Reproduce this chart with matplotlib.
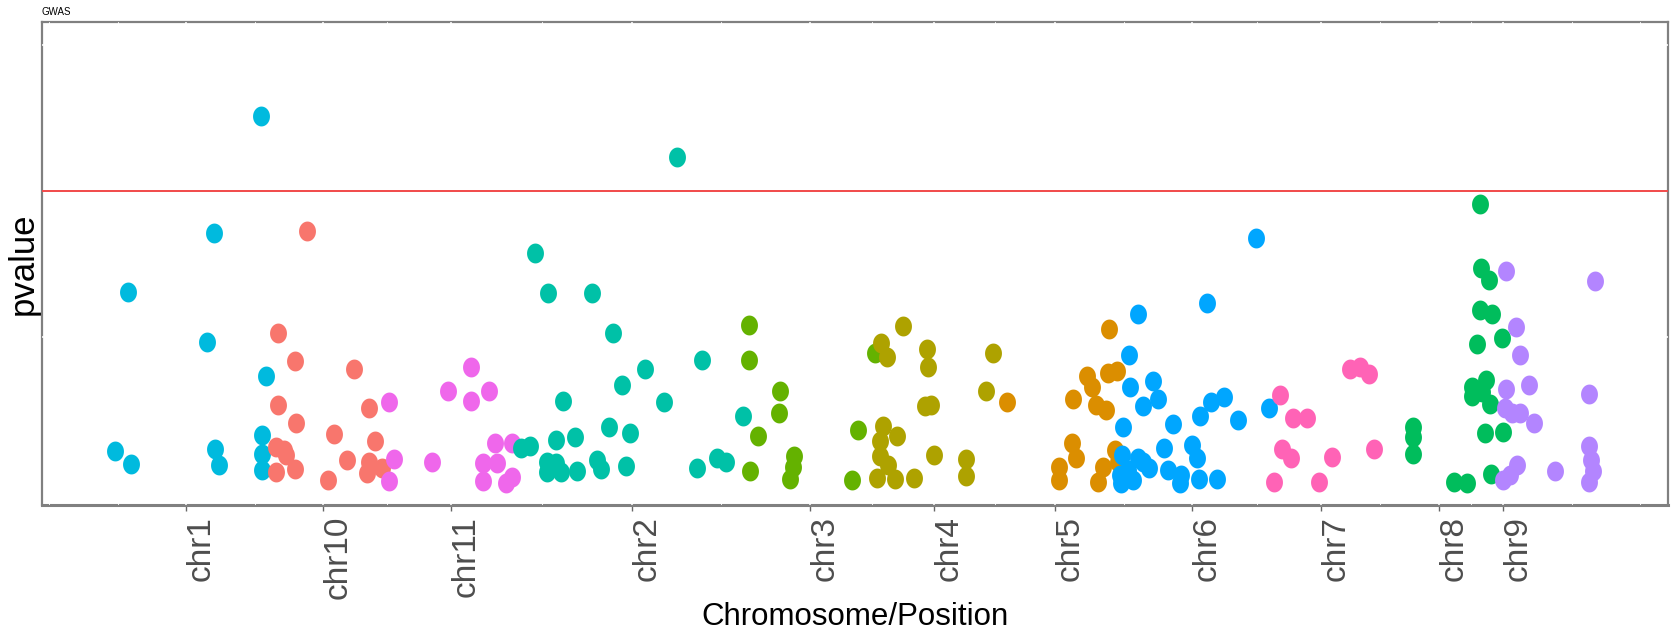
import matplotlib
matplotlib.use("Agg")
import matplotlib.pyplot as plt
import numpy as np
from matplotlib.path import Path

plt.rcParams['font.family'] = ['Liberation Sans', 'DejaVu Sans']

# chromosome order on the axis and the hue colour each one got
chroms = ['chr1', 'chr10', 'chr11', 'chr2', 'chr3', 'chr4',
          'chr5', 'chr6', 'chr7', 'chr8', 'chr9']
colors = ['#00BADE', '#F8766D', '#EF67EB', '#00C1A7', '#64B200', '#AEA200',
          '#DB8E00', '#00A6FF', '#FF63B6', '#00BD5C', '#B385FF']
centers = [144, 281, 409, 590, 768, 892, 1013, 1150, 1279, 1397, 1461]

# cumulative position and -log10(p) per chromosome
pos_chr1 = [219, 172, 86, 165, 224, 220, 73, 89, 173, 177, 220, 220]
p_chr1 = [6.29, 4.28, 3.27, 2.41, 1.84, 0.82, 0.55, 0.32, 0.58, 0.31, 0.49, 0.22]

pos_chr10 = [265, 236, 253, 312, 236, 327, 254, 292, 333, 234, 242, 244, 305,
             327, 234, 253, 286, 325, 340]
p_chr10 = [4.32, 2.57, 2.09, 1.95, 1.33, 1.29, 1.03, 0.84, 0.72, 0.62, 0.57,
           0.48, 0.39, 0.36, 0.19, 0.23, 0.05, 0.17, 0.25]

pos_chr11 = [347, 352, 347, 390, 429, 406, 447, 429, 453, 470, 441, 455, 441,
             464, 470]
p_chr11 = [1.38, 0.41, 0.04, 0.35, 1.99, 1.58, 1.58, 1.41, 0.69, 0.68, 0.34,
           0.34, 0.04, 0.00, 0.10]

pos_chr2 = [635, 493, 506, 550, 571, 660, 603, 580, 521, 622, 701, 567, 588,
            533, 514, 479, 488, 505, 514, 505, 519, 535, 555, 559, 584, 655,
            675, 684]
p_chr2 = [5.59, 3.94, 3.26, 3.26, 2.57, 2.10, 1.95, 1.67, 1.40, 1.38, 1.15,
          0.96, 0.85, 0.79, 0.74, 0.59, 0.63, 0.36, 0.34, 0.18, 0.18, 0.21,
          0.39, 0.23, 0.29, 0.25, 0.42, 0.35]

pos_chr3 = [707, 707, 738, 737, 716, 708, 752, 751, 748, 833, 816, 810]
p_chr3 = [2.70, 2.10, 1.58, 1.19, 0.80, 0.21, 0.46, 0.28, 0.06, 2.22, 0.90, 0.05]

pos_chr4 = [861, 839, 845, 885, 886, 951, 944, 883, 889, 841, 855, 838, 838,
            846, 835, 853, 872, 892, 924, 924]
p_chr4 = [2.69, 2.40, 2.16, 2.29, 1.99, 2.22, 1.58, 1.31, 1.33, 0.98, 0.80,
          0.71, 0.46, 0.31, 0.09, 0.06, 0.09, 0.48, 0.41, 0.11]

pos_chr5 = [965, 1067, 1066, 1075, 1045, 1050, 1031, 1054, 1064, 1030, 1034,
            1073, 1017, 1017, 1061, 1056, 1076]
p_chr5 = [1.38, 2.64, 1.89, 1.91, 1.83, 1.64, 1.43, 1.34, 1.25, 0.69, 0.42,
          0.57, 0.28, 0.05, 0.28, 0.02, 0.36]

pos_chr6 = [1165, 1096, 1087, 1088, 1111, 1116, 1101, 1169, 1182, 1158, 1196,
            1081, 1131, 1122, 1150, 1155, 1080, 1096, 1107, 1126, 1078, 1079,
            1091, 1139, 1138, 1157, 1175, 1214, 1227, 1086, 1101]
p_chr6 = [3.09, 2.89, 2.19, 1.64, 1.75, 1.43, 1.31, 1.39, 1.47, 1.15, 1.07,
          0.96, 1.01, 0.60, 0.65, 0.42, 0.48, 0.42, 0.25, 0.22, 0.14, 0.00,
          0.05, 0.14, 0.00, 0.06, 0.06, 4.19, 1.28, 0.22, 0.36]

pos_chr7 = [1238, 1251, 1265, 1240, 1249, 1232, 1277, 1290, 1308, 1318, 1327, 1332]
p_chr7 = [1.51, 1.11, 1.12, 0.58, 0.42, 0.01, 0.02, 0.44, 1.95, 1.99, 1.86, 0.58]

pos_chr8 = [1371, 1371, 1371, 1412, 1425, 1438, 1439, 1447, 1438, 1450, 1435,
            1460, 1444, 1430, 1430, 1440, 1448, 1443, 1461, 1449]
p_chr8 = [0.95, 0.78, 0.50, 0.01, 0.00, 4.78, 3.68, 3.48, 2.96, 2.89, 2.38,
          2.49, 1.76, 1.64, 1.49, 1.56, 1.35, 0.86, 0.88, 0.15]

pos_chr9 = [1464, 1553, 1474, 1478, 1464, 1487, 1547, 1463, 1470, 1478, 1492,
            1547, 1549, 1551, 1547, 1513, 1475, 1468, 1461]
p_chr9 = [3.63, 3.46, 2.67, 2.19, 1.61, 1.68, 1.52, 1.28, 1.19, 1.19, 1.03,
          0.63, 0.39, 0.21, 0.02, 0.21, 0.31, 0.14, 0.05]

threshold = 5

positions = [pos_chr1, pos_chr10, pos_chr11, pos_chr2, pos_chr3, pos_chr4,
             pos_chr5, pos_chr6, pos_chr7, pos_chr8, pos_chr9]
pvals = [p_chr1, p_chr10, p_chr11, p_chr2, p_chr3, p_chr4,
         p_chr5, p_chr6, p_chr7, p_chr8, p_chr9]

# slightly tall oval marker
t = np.linspace(0, 2 * np.pi, 60)
oval = Path(np.column_stack([0.85 * np.cos(t), np.sin(t)]), closed=True)

fig = plt.figure(figsize=(16.8, 6.36), dpi=100)
ax = fig.add_axes([42 / 1680, 1 - 505 / 636, 1626 / 1680, 483 / 636])

ax.set_xlim(0, 1626)
ax.set_ylim(-0.38, 7.9)

# white grid lines, ggplot style (major at centres, minor in between)
step = centers[1] - centers[0]
ext = [centers[0] - step] + centers + [centers[-1] + step]
minors = [(a + b) / 2 for a, b in zip(ext[:-1], ext[1:])] + [ext[0], ext[-1]]
for x in centers:
    ax.axvline(x, color='white', lw=1.1, zorder=2.6)
for x in minors:
    ax.axvline(x, color='white', lw=0.6, zorder=2.6)
for y in [2.5, 5, 7.5]:
    ax.axhline(y, color='white', lw=1.1, zorder=2.6)

for xs, ys, c in zip(positions, pvals, colors):
    ax.scatter(xs, ys, s=205, marker=oval, color=c, linewidths=0, zorder=3)

ax.axhline(threshold, color='#F03C3C', lw=1.3, zorder=3.5)

for side in ['left', 'right', 'top', 'bottom']:
    ax.spines[side].set_color('#808080')
    ax.spines[side].set_linewidth(1.6)
    ax.spines[side].set_zorder(2.5)
ax.spines['bottom'].set_linewidth(2.2)

ax.set_yticks([])
ax.set_xticks(centers)
ax.set_xticklabels(chroms, rotation=90, rotation_mode='anchor',
                   ha='right', va='top', fontsize=24, color='#4D4D4D')
ax.tick_params(axis='x', length=4, width=1, color='#666666', pad=4)

ax.set_xlabel('Chromosome/Position', fontsize=22.5, va='center')
ax.xaxis.set_label_coords(0.5, -0.232)
ax.set_ylabel('pvalue', fontsize=25, va='center')
ax.yaxis.set_label_coords(-0.0117, 0.5)

ax.set_title('GWAS', loc='left', fontsize=7, pad=5)

fig.savefig('out.png', dpi=100)
